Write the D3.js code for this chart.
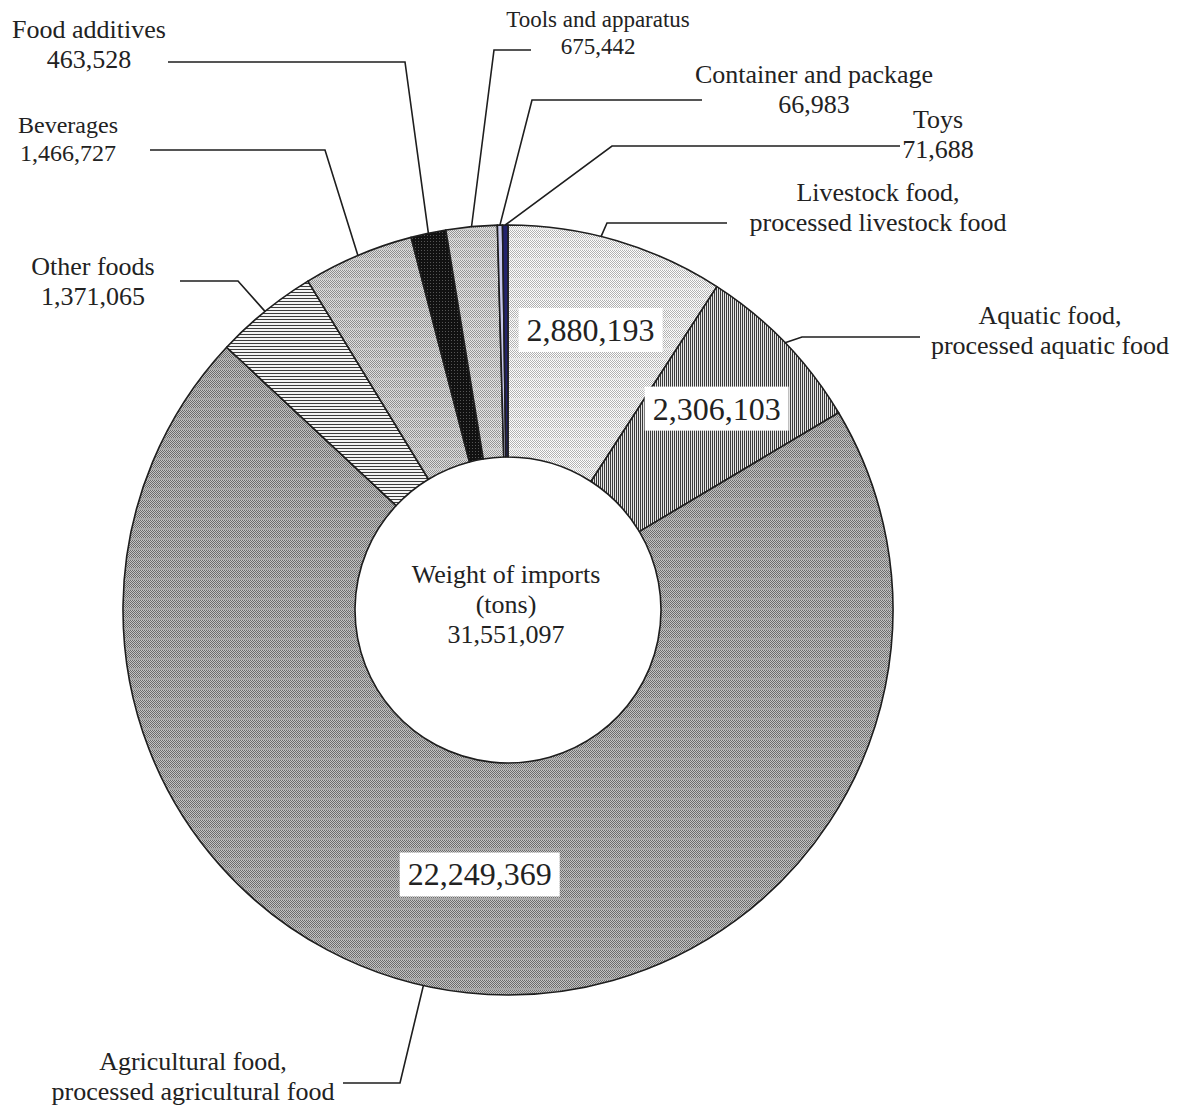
<!DOCTYPE html>
<html>
<head>
<meta charset="utf-8">
<script src="https://cdn.jsdelivr.net/npm/d3@7/dist/d3.min.js"></script>
<style>
  body { margin: 0; background: #fff; }
  svg text { font-family: "Liberation Serif", "Times New Roman", serif; fill: #222; }
</style>
</head>
<body>
<div id="chart"></div>
<script>
// data, clockwise from 12 o'clock
var categories = ['Livestock food, processed livestock food', 'Aquatic food, processed aquatic food',
  'Agricultural food, processed agricultural food', 'Other foods', 'Beverages', 'Food additives',
  'Tools and apparatus', 'Container and package', 'Toys'];
var weights = [2880193, 2306103, 22249369, 1371065, 1466727, 463528, 675442, 66983, 71688];
var valueLabels = ['2,880,193', '2,306,103', '22,249,369', '1,371,065', '1,466,727', '463,528', '675,442', '66,983', '71,688'];
var labelLines = [
  ['Livestock food,', 'processed livestock food'],
  ['Aquatic food,', 'processed aquatic food'],
  ['Agricultural food,', 'processed agricultural food'],
  ['Other foods', '1,371,065'],
  ['Beverages', '1,466,727'],
  ['Food additives', '463,528'],
  ['Tools and apparatus', '675,442'],
  ['Container and package', '66,983'],
  ['Toys', '71,688']
];
var insideValue = [true, true, true, false, false, false, false, false, false];
var totalLabel = ['Weight of imports', '(tons)', '31,551,097'];

// layout of outside labels: text centre x, first baseline y, font size, leader elbow and horizontal end
var labelLayout = [
  {x: 878, y: 201, fs: 26, ex: 607, ey: 223, hx: 727, attach: 14},
  {x: 1050, y: 324, fs: 26, ex: 802, ey: 337, hx: 920},
  {x: 193, y: 1070, fs: 26, ex: 400, ey: 1083, hx: 343, attach: 192.7},
  {x: 93, y: 275, fs: 26, ex: 238, ey: 281, hx: 180},
  {x: 68, y: 133, fs: 24, ex: 325, ey: 150, hx: 150},
  {x: 89, y: 38, fs: 26, ex: 405, ey: 62, hx: 168},
  {x: 598, y: 27, fs: 23, ex: 494, ey: 50, hx: 531},
  {x: 814, y: 83, fs: 26, ex: 532, ey: 100, hx: 702},
  {x: 938, y: 128, fs: 26, ex: 612, ey: 146, hx: 900}
];
// radius of the boxed values inside the three big slices
var valueRadius = [292, 290, 266];

var fills = ['url(#pLive)', 'url(#pAqua)', 'url(#pAgri)', 'url(#pOther)', 'url(#pBev)',
  'url(#pAdd)', 'url(#pTools)', '#c8c8ec', '#23236e'];

var width = 1189, height = 1108;
var cx = 508, cy = 610, outerR = 385, innerR = 153;

var svg = d3.select('#chart').append('svg').attr('width', width).attr('height', height);
var defs = svg.append('defs');

function checker(id, dark, light, band) {
  var p = defs.append('pattern').attr('id', id).attr('patternUnits', 'userSpaceOnUse')
    .attr('width', 2).attr('height', 10);
  p.append('rect').attr('width', 2).attr('height', 10).attr('fill', light);
  for (var r = 0; r < 8; r++) {
    p.append('rect').attr('x', r % 2).attr('y', r).attr('width', 1).attr('height', 1).attr('fill', dark);
  }
  p.append('rect').attr('y', 8).attr('width', 2).attr('height', 2).attr('fill', band);
}
checker('pLive', '#b2b2b2', '#ffffff', '#e6e6e6');
checker('pAgri', '#6c6c6c', '#c4c4c4', '#a6a6a6');
checker('pBev', '#8e8e8e', '#e0e0e0', '#c6c6c6');
checker('pTools', '#949494', '#e6e6e6', '#cccccc');

var pa = defs.append('pattern').attr('id', 'pAqua').attr('patternUnits', 'userSpaceOnUse')
  .attr('width', 2).attr('height', 2);
pa.append('rect').attr('width', 2).attr('height', 2).attr('fill', '#e4e4e4');
pa.append('rect').attr('width', 1).attr('height', 2).attr('fill', '#3a3a3a');

var po = defs.append('pattern').attr('id', 'pOther').attr('patternUnits', 'userSpaceOnUse')
  .attr('width', 2).attr('height', 3);
po.append('rect').attr('width', 2).attr('height', 3).attr('fill', '#f4f4f4');
po.append('rect').attr('width', 2).attr('height', 1).attr('fill', '#3c3c3c');

var pd = defs.append('pattern').attr('id', 'pAdd').attr('patternUnits', 'userSpaceOnUse')
  .attr('width', 3).attr('height', 3);
pd.append('rect').attr('width', 3).attr('height', 3).attr('fill', '#111');
pd.append('rect').attr('width', 1).attr('height', 1).attr('fill', '#555');

var pie = d3.pie().sort(null).value(function(d) { return d; });
var arcs = pie(weights);
var arc = d3.arc().innerRadius(innerR).outerRadius(outerR);

var g = svg.append('g').attr('transform', 'translate(' + cx + ',' + cy + ')');
g.selectAll('path.slice').data(arcs).enter().append('path')
  .attr('class', 'slice')
  .attr('d', arc)
  .attr('fill', function(d, i) { return fills[i]; })
  .attr('stroke', '#1e1e1e')
  .attr('stroke-width', 1.6)
  .attr('stroke-linejoin', 'round');

// centre text
g.selectAll('text.total').data(totalLabel).enter().append('text')
  .attr('class', 'total')
  .attr('x', -2)
  .attr('y', function(d, i) { return -27 + i * 30; })
  .attr('text-anchor', 'middle')
  .attr('font-size', 26)
  .text(function(d) { return d; });

// values inside the big slices, on white boxes
arcs.forEach(function(a, i) {
  if (!insideValue[i]) return;
  var r = valueRadius[i];
  var c = d3.arc().innerRadius(r).outerRadius(r).centroid(a);
  var t = g.append('text')
    .attr('x', c[0]).attr('y', c[1] + 11)
    .attr('text-anchor', 'middle')
    .attr('font-size', 32)
    .text(valueLabels[i]);
  var b = t.node().getBBox();
  g.insert('rect', function() { return t.node(); })
    .attr('x', b.x - 8).attr('y', c[1] - 22)
    .attr('width', b.width + 16).attr('height', 44)
    .attr('fill', '#fff');
});

// leader lines and outside labels
var leaders = svg.append('g');
arcs.forEach(function(a, i) {
  var L = labelLayout[i];
  var ang = L.attach !== undefined ? L.attach * Math.PI / 180 : (a.startAngle + a.endAngle) / 2;
  var px = cx + outerR * Math.sin(ang), py = cy - outerR * Math.cos(ang);
  leaders.append('polyline')
    .attr('points', [[px, py], [L.ex, L.ey], [L.hx, L.ey]].map(function(p) { return p.join(','); }).join(' '))
    .attr('fill', 'none')
    .attr('stroke', '#1e1e1e')
    .attr('stroke-width', 1.6);
  labelLines[i].forEach(function(line, j) {
    svg.append('text')
      .attr('x', L.x)
      .attr('y', L.y + j * (L.fs + 4))
      .attr('text-anchor', 'middle')
      .attr('font-size', L.fs)
      .text(line);
  });
});
</script>
</body>
</html>
